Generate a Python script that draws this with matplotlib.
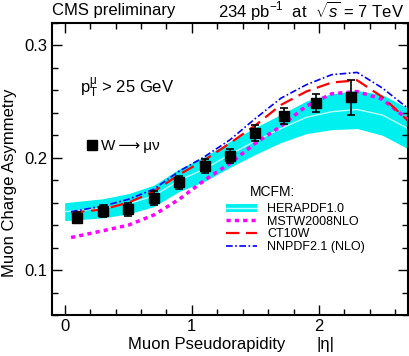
import numpy as np
import matplotlib
matplotlib.use("Agg")
import matplotlib.pyplot as plt
from matplotlib.lines import Line2D
from matplotlib.patches import Patch
from matplotlib.ticker import MultipleLocator

plt.rcParams['font.family'] = ['Liberation Sans', 'DejaVu Sans']
plt.rcParams['mathtext.fontset'] = 'custom'
plt.rcParams['mathtext.rm'] = 'Liberation Sans'
plt.rcParams['mathtext.it'] = 'Liberation Sans:italic'
plt.rcParams['mathtext.sf'] = 'Liberation Sans'

# --------------------------
# Data
# --------------------------
eta_data = [0.1, 0.3, 0.5, 0.7, 0.9, 1.1, 1.3, 1.5, 1.725, 1.975, 2.25]
asym_data = [0.1465, 0.1524, 0.154, 0.1643, 0.1782, 0.1924, 0.2013, 0.222, 0.2369, 0.2487, 0.2538]
asym_err = [0.005, 0.0055, 0.0055, 0.006, 0.006, 0.0064, 0.0064, 0.007, 0.007, 0.0078, 0.0155]

# HERAPDF1.0 band
eta_hera = [0.0, 0.3, 0.5, 0.7, 0.9, 1.1, 1.3, 1.5, 1.7, 1.9, 2.1, 2.3, 2.5, 2.7]
hera_mid = [0.152, 0.155, 0.159, 0.166, 0.180, 0.190, 0.203, 0.215, 0.226, 0.236, 0.241, 0.243, 0.238, 0.226]
hera_half = [0.008, 0.0085, 0.009, 0.0095, 0.010, 0.011, 0.0115, 0.012, 0.0125, 0.0145, 0.016, 0.017, 0.018, 0.018]

eta_th = [0.05, 0.3, 0.5, 0.7, 0.9, 1.1, 1.3, 1.5, 1.7, 1.9, 2.1, 2.3, 2.5, 2.7]
mstw = [0.129, 0.135, 0.140, 0.149, 0.163, 0.180, 0.195, 0.213, 0.228, 0.246, 0.257, 0.259, 0.252, 0.234]
ct10w = [0.151, 0.154, 0.160, 0.170, 0.185, 0.198, 0.213, 0.229, 0.247, 0.259, 0.267, 0.269, 0.254, 0.233]
nnpdf = [0.152, 0.157, 0.163, 0.172, 0.188, 0.201, 0.216, 0.235, 0.253, 0.265, 0.274, 0.276, 0.262, 0.244]

# --------------------------
# Plot
# --------------------------
fig = plt.figure(figsize=(4.09, 3.56), dpi=100)
ax = fig.add_axes([52/409, 1-315/356, 356/409, 292/356])

lo = np.array(hera_mid) - np.array(hera_half)
hi = np.array(hera_mid) + np.array(hera_half)
band = ax.fill_between(eta_hera, lo, hi, color='#00f0f0', lw=0, zorder=1)
hline, = ax.plot(eta_hera, hera_mid, color='#bdfcfc', lw=1.0, zorder=2)

l_mstw, = ax.plot(eta_th, mstw, color='#ff00ff', lw=2.5, dashes=(1.2, 1.2), zorder=3)
l_ct, = ax.plot(eta_th, ct10w, color='#ff0000', lw=1.6, dashes=(6, 3), zorder=3)
l_nn, = ax.plot(eta_th, nnpdf, color='#0000ff', lw=1.2, dashes=(4, 1.5, 1, 1.5), zorder=3)

ax.errorbar(eta_data, asym_data, yerr=asym_err, fmt='s', color='black',
            ms=7.5, elinewidth=1.2, capsize=3, capthick=1.2, zorder=5)

ax.set_xlim(-0.1, 2.7)
ax.set_ylim(0.06, 0.32)
ax.xaxis.set_major_locator(MultipleLocator(1))
ax.xaxis.set_minor_locator(MultipleLocator(0.2))
ax.yaxis.set_major_locator(MultipleLocator(0.1))
ax.yaxis.set_minor_locator(MultipleLocator(0.02))
ax.set_xticks([0, 1, 2])
ax.set_xticklabels(['0', '1', '2'])
ax.set_yticks([0.1, 0.2, 0.3])
ax.set_yticklabels(['0.1', '0.2', '0.3'])
ax.tick_params(which='both', direction='in', top=True, right=True, labelsize=12, width=1)
ax.tick_params(which='major', length=7)
ax.tick_params(which='minor', length=4)
ax.tick_params(axis='x', pad=3)
ax.tick_params(axis='y', pad=3)
for s in ax.spines.values():
    s.set_linewidth(1.5)

# texts
fig.text(52/409, 1-11/356, 'CMS preliminary', fontsize=12, ha='left', va='center')
fig.text(404/409, 1-11/356, r'234 pb$^{-1}$  at  $\sqrt{s}$ = 7 TeV', fontsize=12, ha='right', va='center')
fig.text(10/409, 1-183/356, 'Muon Charge Asymmetry', fontsize=12, rotation=90, ha='center', va='center')
fig.text(128/409, 1-345/356, 'Muon Pseudorapidity', fontsize=12, ha='left', va='center')
fig.text(325/409, 1-345/356, '|η|', fontsize=12, ha='center', va='center')
ax.text((80-52)/356, (315-88)/292, r'p$_{\mathrm{T}}^{\mathrm{μ}}$ > 25 GeV', transform=ax.transAxes,
        fontsize=12, ha='left', va='center')
ax.text((250-52)/356, (315-192)/292, 'MCFM:', transform=ax.transAxes,
        fontsize=10, ha='left', va='center')

# legends
data_h = Line2D([], [], marker='s', color='black', ls='none', ms=7.5)
leg1 = ax.legend([data_h], ['W\u2009⟶\u2009μν'], loc='center left',
                 bbox_to_anchor=((86-52)/356, (315-146)/292), frameon=False, fontsize=11,
                 handlelength=0.8, handletextpad=0.2, borderpad=0, borderaxespad=0)
ax.add_artist(leg1)

hera_h = (Patch(facecolor='#00f0f0', lw=0), Line2D([], [], color='#bdfcfc', lw=1.0))
ax.legend([hera_h, l_mstw, l_ct, l_nn],
          ['HERAPDF1.0', 'MSTW2008NLO', 'CT10W', 'NNPDF2.1 (NLO)'],
          loc='upper left', bbox_to_anchor=((226-52)/356, (315-203)/292),
          frameon=False, fontsize=9, handlelength=2.5, handleheight=0.6,
          handletextpad=0.8, labelspacing=0.05, borderpad=0, borderaxespad=0)

fig.savefig('out.png', dpi=100)
